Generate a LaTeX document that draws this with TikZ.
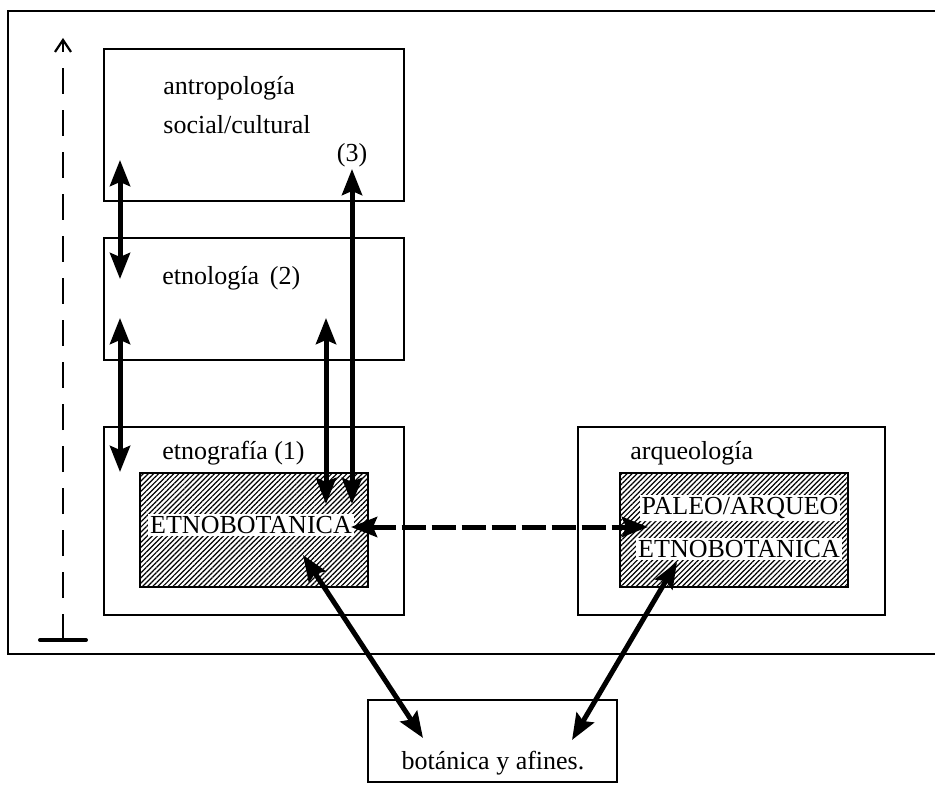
\documentclass[tikz,border=0pt]{standalone}
\usepackage{fontspec}
\setmainfont{Liberation Serif}
\usetikzlibrary{arrows.meta,patterns.meta}

\begin{document}
\begin{tikzpicture}[
  x=0.5pt, y=-0.5pt,
  >={Stealth[length=13pt,width=10pt,inset=2pt]},
  font=\fontsize{13}{15.5}\selectfont,
  box/.style={rectangle, draw, line width=0.9pt, inner sep=0pt},
  hatchbox/.style={rectangle, draw, line width=1pt, inner sep=0pt,
    pattern={Lines[angle=45,distance=1.8pt,line width=0.6pt]}},
  lbl/.style={anchor=west, inner sep=0pt},
  caps/.style={fill=white, inner sep=1pt},
  dbl/.style={<->, line width=2.5pt},
  frame/.style={line width=1pt},
]
  \useasboundingbox (0,0) rectangle (935,785);

  % outer frame (open on the right)
  \coordinate (ftr) at (935,11);
  \coordinate (ftl) at (8,11);
  \coordinate (fbl) at (8,654);
  \coordinate (fbr) at (935,654);
  \draw[frame] (ftr) -- (ftl) -- (fbl) -- (fbr);

  % time axis
  \coordinate (axbot) at (63,640);
  \coordinate (axtop) at (63,38);
  \coordinate (barl) at (40,640);
  \coordinate (barr) at (86,640);
  \draw[line width=1.1pt, dash pattern=on 13pt off 8pt, -{Straight Barb[length=6pt,width=8pt,line width=1.1pt]}] (axbot) -- (axtop);
  \draw[line width=2pt, line cap=round] (barl) -- (barr);

  % boxes
  \node[box, minimum width=150pt, minimum height=76pt] (antro) at (254,125) {};
  \node[box, minimum width=150pt, minimum height=61pt] (etnol) at (254,299) {};
  \node[box, minimum width=150pt, minimum height=94pt] (etnog) at (254,521) {};
  \node[hatchbox, minimum width=114pt, minimum height=57pt] (etnobot) at (254,530) {};
  \node[box, minimum width=153.5pt, minimum height=94pt] (arqueo) at (731.5,521) {};
  \node[hatchbox, minimum width=114pt, minimum height=57pt] (paleo) at (734,530) {};
  \node[box, minimum width=124.5pt, minimum height=41pt] (botan) at (492.5,741) {};

  % labels
  \node[lbl] (tantro) at (163,88) {antropología};
  \node[lbl] (tsocial) at (163,125) {social/cultural};
  \node[lbl] (tetnol) at (162,278) {etnología\ \,(2)};
  \node[lbl] (tetnog) at (162,453) {etnografía (1)};
  \node[lbl] (tarq) at (630,453) {arqueología};
  \node[caps] (tetnobot) at (251,525) {ETNOBOTANICA};
  \node[caps] (tpaleo) at (740,508) {PALEO/ARQUEO};
  \node[caps] (tetnobot2) at (739,549) {ETNOBOTANICA};
  \node (tbot) at (493,763) {botánica y afines.};
  \node (tthree) at (352,155) {(3)};

  % arrow ends
  \coordinate (a1t) at (120,160);
  \coordinate (a1b) at (120,279);
  \coordinate (a2t) at (120,318);
  \coordinate (a2b) at (120,472);
  \coordinate (a3t) at (326,318);
  \coordinate (a3b) at (326,504);
  \coordinate (a4t) at (352,169);
  \coordinate (a4b) at (352,504);
  \coordinate (hl) at (351,527);
  \coordinate (hr) at (648,527);
  \coordinate (d1t) at (303,555);
  \coordinate (d1b) at (423,738);
  \coordinate (d2t) at (677,562);
  \coordinate (d2b) at (572,740);

  % connectors
  \draw[dbl] (a1t) -- (a1b);
  \draw[dbl] (a2t) -- (a2b);
  \draw[dbl] (a3t) -- (a3b);
  \draw[dbl] (a4t) -- (a4b);
  \draw[dbl, dash pattern=on 12pt off 3pt] (hl) -- (hr);
  \draw[dbl] (d1t) -- (d1b);
  \draw[dbl] (d2t) -- (d2b);
\end{tikzpicture}
\end{document}
